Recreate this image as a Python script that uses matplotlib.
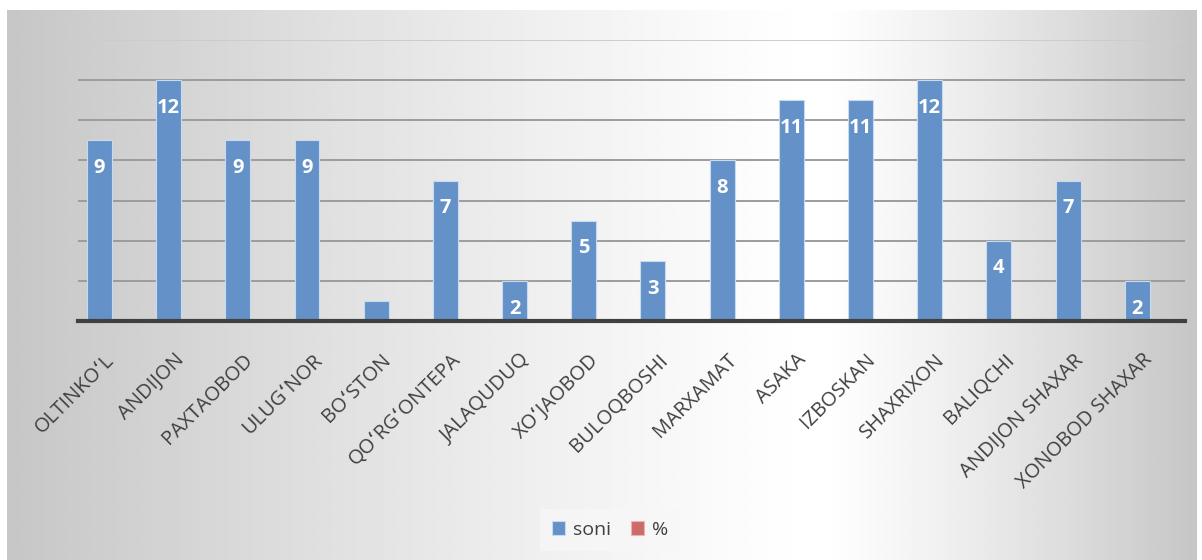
import matplotlib.pyplot as plt
import matplotlib.transforms as mtransforms
import numpy as np

districts = ["OLTINKOʻL", "ANDIJON", "PAXTAOBOD", "ULUGʻNOR", "BOʻSTON",
             "QOʻRGʻONTEPA", "JALAQUDUQ", "XOʻJAOBOD", "BULOQBOSHI", "MARXAMAT",
             "ASAKA", "IZBOSKAN", "SHAXRIXON", "BALIQCHI", "ANDIJON SHAXAR",
             "XONOBOD SHAXAR"]
soni = [9, 12, 9, 9, 1, 7, 2, 5, 3, 8, 11, 11, 12, 4, 7, 2]
percent = [0] * len(districts)

plt.rcParams['font.family'] = ['Open Sans', 'DejaVu Sans']

W, H = 1202, 560
fig = plt.figure(figsize=(W / 100, H / 100), dpi=100)

# gradient chart background (gray at the sides, white near the middle-right)
bg = fig.add_axes([0, 0, 1, 1], zorder=-10)
xs = np.linspace(0, W, 600)
cx = 820
shade = np.where(xs < cx, (cx - xs) / (cx - 7), (xs - cx) / (1197 - cx))
shade = np.clip(shade, 0, 1)
row = 1.0 - 0.22 * shade ** 1.2
img = np.tile(row, (50, 1))
bg.imshow(img, cmap='gray', vmin=0, vmax=1, aspect='auto',
          extent=[7, 1197, 560, 10])
bg.set_xlim(0, W)
bg.set_ylim(H, 0)
bg.axis('off')

ax = fig.add_axes([78 / W, 239 / H, 1107 / W, 281 / H])
ax.patch.set_alpha(0)
x = np.arange(len(districts))
bw = 0.36
ax.bar(x - 0.19, soni, bw, color='#6391c8', edgecolor='#c9daef',
       linewidth=0.8, label='soni', zorder=3)
ax.bar(x + 0.19, percent, bw, color='#cd6b69', edgecolor='#e9b5b4',
       linewidth=0.8, label='%', zorder=3)

for xi, v in zip(x, soni):
    if v >= 2:
        ax.annotate(str(v), (xi - 0.19, v), xytext=(0, -20), textcoords='offset points',
                    ha='center', va='center', color='white', fontsize=14.5,
                    fontweight='bold', zorder=4)

ax.set_xlim(-0.5, len(districts) - 0.5)
ax.set_ylim(0, 14)
ax.set_yticks(np.arange(2, 15, 2))
ax.yaxis.grid(True, color='#9c9c9c', linewidth=1.4, zorder=0)
ax.get_ygridlines()[-1].set_color('#cccccc')
ax.tick_params(axis='y', left=False, labelleft=False)
ax.tick_params(axis='x', bottom=False, length=0, pad=26)
for s in ['top', 'right', 'left']:
    ax.spines[s].set_visible(False)
ax.spines['bottom'].set_color('#404040')
ax.spines['bottom'].set_linewidth(3)
ax.spines['bottom'].set_zorder(5)
ax.set_xticks(x)
ax.set_xticklabels(districts, rotation=45, ha='right', va='center',
                   rotation_mode='anchor', fontsize=14.5, color='#404040')
shift = mtransforms.ScaledTranslation(-1 / 100, 0, fig.dpi_scale_trans)
for lab in ax.get_xticklabels():
    lab.set_transform(lab.get_transform() + shift)

leg = fig.legend(loc='center', bbox_to_anchor=(610 / W, 1 - 530 / H), ncol=2,
                 fontsize=14, frameon=True, fancybox=False, handlelength=0.7,
                 handleheight=0.7, columnspacing=1.0, handletextpad=0.4,
                 borderpad=0.6)
leg.get_frame().set_facecolor('#f7f7f7')
leg.get_frame().set_edgecolor('none')
for t in leg.get_texts():
    t.set_color('#404040')

fig.savefig('out.png', dpi=100)
